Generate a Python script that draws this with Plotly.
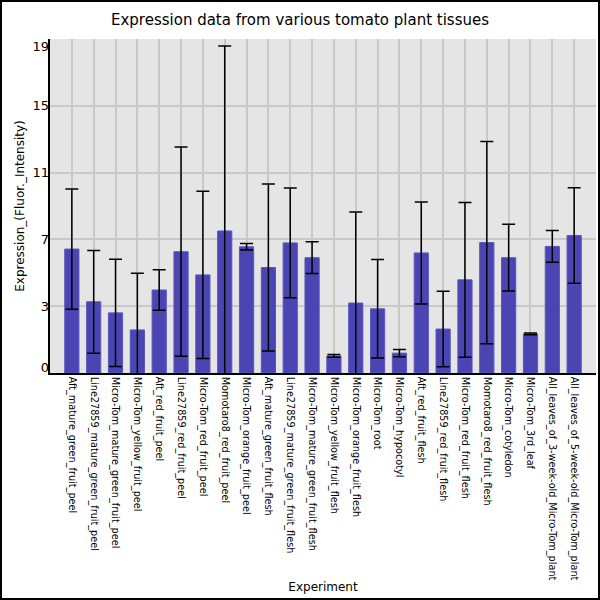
import plotly.graph_objects as go

experiments = [
    "Aft_mature_green_fruit_peel", "Line27859_mature_green_fruit_peel",
    "Micro-Tom_mature_green_fruit_peel", "Micro-Tom_yellow_fruit_peel",
    "Aft_red_fruit_peel", "Line27859_red_fruit_peel", "Micro-Tom_red_fruit_peel",
    "Momotaro8_red_fruit_peel", "Micro-Tom_orange_fruit_peel",
    "Aft_mature_green_fruit_flesh", "Line27859_mature_green_fruit_flesh",
    "Micro-Tom_mature_green_fruit_flesh", "Micro-Tom_yellow_fruit_flesh",
    "Micro-Tom_orange_fruit_flesh", "Micro-Tom_root", "Micro-Tom_hypocotyl",
    "Aft_red_fruit_flesh", "Line27859_red_fruit_flesh", "Micro-Tom_red_fruit_flesh",
    "Momotaro8_red_fruit_flesh", "Micro-Tom_cotyledon", "Micro-Tom_3rd_leaf",
    "All_leaves_of_3-week-old_Micro-Tom_plant", "All_leaves_of_5-week-old_Micro-Tom_plant",
]
expression = [7.05, 4.05, 3.42, 2.45, 4.72, 6.9, 5.58, 8.08, 7.18, 6.0, 7.4, 6.56,
              0.97, 3.98, 3.65, 1.13, 6.83, 2.5, 5.3, 7.42, 6.56, 2.22, 7.2, 7.82]
errors = [3.42, 2.92, 3.05, 3.22, 1.15, 5.95, 4.76, 10.52, 0.19, 4.75, 3.12, 0.9,
          0.08, 5.18, 2.8, 0.2, 2.9, 2.15, 4.4, 5.75, 1.9, 0.05, 0.9, 2.72]

# y grid sits at fifths of the range, labels shown truncated like the original
ygrid_vals = [3.8, 7.6, 11.4, 15.2]
ytick_text = ["0", "3", "7", "11", "15", "19"]
# the end labels are nudged inside the plot, as in the original
ylabel_vals = [0.33, 3.8, 7.6, 11.4, 15.2, 18.59]

fig = go.Figure(go.Bar(
    x=list(range(len(experiments))), y=expression,
    width=0.65,
    marker=dict(color="#4a45b2", line=dict(color="#5a56bd", width=1)),
    error_y=dict(type="data", array=errors, color="black", thickness=1.5, width=6.5),
))
# empty trace so the label axis gets drawn
fig.add_trace(go.Scatter(x=[None], y=[None], yaxis="y2", mode="markers",
                         hoverinfo="skip", showlegend=False))

fig.update_layout(
    width=600, height=600,
    margin=dict(l=50, r=4, t=39, b=227),
    paper_bgcolor="white", plot_bgcolor="#e5e5e5",
    font=dict(family="DejaVu Sans", color="black", size=12),
    title=dict(text="Expression data from various tomato plant tissues",
               x=0.5, xanchor="center", y=1 - 20 / 600, yanchor="middle",
               font=dict(size=15)),
    showlegend=False,
    xaxis=dict(
        range=[-1, len(experiments)], automargin=False,
        tickvals=list(range(len(experiments))), ticktext=experiments,
        tickangle=90, tickfont=dict(size=9.7),
        showgrid=True, gridcolor="#c8c8c8", gridwidth=1.5,
        showline=True, linecolor="black", linewidth=1.5,
        ticks="", zeroline=False,
        title=dict(text="Experiment", standoff=3, font=dict(size=12)),
    ),
    yaxis=dict(
        range=[0, 19], automargin=False,
        tickvals=ygrid_vals, showticklabels=False,
        showgrid=True, gridcolor="#c8c8c8", gridwidth=1.5,
        showline=True, linecolor="black", linewidth=1.5,
        ticks="", zeroline=False,
    ),
    yaxis2=dict(
        overlaying="y", anchor="x", side="left", range=[0, 19], automargin=False,
        tickvals=ylabel_vals, ticktext=ytick_text, tickfont=dict(size=13),
        showticklabels=True, showgrid=False, showline=False, zeroline=False, ticks="",
        title=dict(text="Expression_(Fluor._Intensity)", standoff=5, font=dict(size=12)),
    ),
)

# thin black frame around the whole picture
fig.add_shape(type="rect", xref="paper", yref="paper",
              x0=-49 / 546, x1=549 / 546, y0=-226 / 334, y1=1 + 38 / 334,
              line=dict(color="black", width=2), fillcolor="rgba(0,0,0,0)")

fig.write_html("out.html", config={"displayModeBar": False},
               post_script="document.body.style.margin='0px';")
